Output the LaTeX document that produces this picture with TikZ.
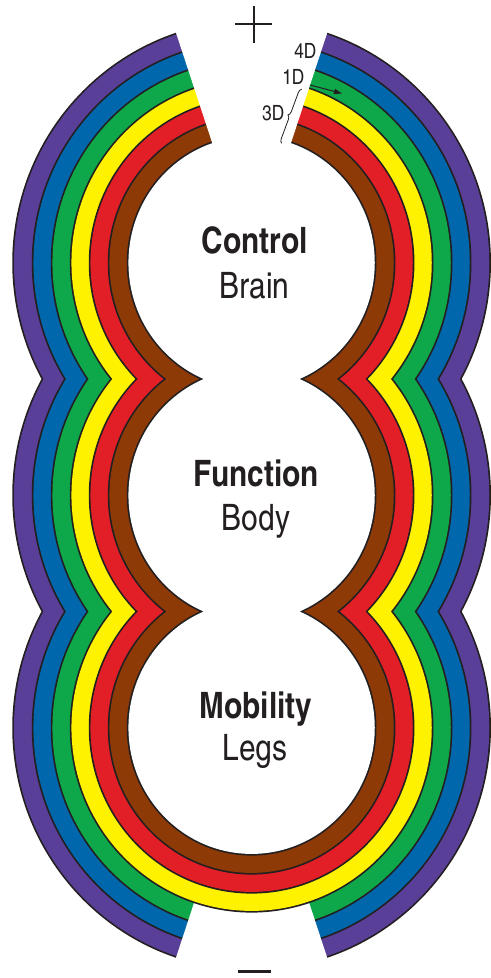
\documentclass[tikz,border=0pt]{standalone}
\usepackage{fontspec}
\setmainfont{texgyreheroscn}[Extension=.otf, UprightFont=*-regular, BoldFont=*-bold]
\usetikzlibrary{arrows.meta,decorations.pathreplacing}

\definecolor{bandpurple}{HTML}{5A3F98}
\definecolor{bandblue}{HTML}{0067AC}
\definecolor{bandgreen}{HTML}{0EA84B}
\definecolor{bandyellow}{HTML}{FFF200}
\definecolor{bandred}{HTML}{E21E26}
\definecolor{bandbrown}{HTML}{8E3A07}
\definecolor{ink}{HTML}{231F20}

% three stacked lobes of one boundary, filled with a colour
\newcommand\lobefill[2]{%
  \fill[#2] (top) ellipse [x radius=#1, y radius=#1+3]
            (mid) ellipse [x radius=#1, y radius=#1+3]
            (bot) ellipse [x radius=#1, y radius=#1+3];}
% one ring: thin dark outline at radius #1, colour #2 inside it
\newcommand\ring[2]{\lobefill{#1+0.85}{ink}\lobefill{#1-0.85}{#2}}

\tikzset{
  title/.style={font=\fontsize{18.2pt}{18pt}\selectfont\bfseries, text=ink, anchor=base, inner sep=0pt},
  subtitle/.style={font=\fontsize{18.2pt}{18pt}\selectfont, text=ink, anchor=base, inner sep=0pt},
  dimlabel/.style={font=\fontsize{10.5pt}{10pt}\selectfont, text=ink, anchor=base, inner sep=0pt},
  gap/.style={fill=white},
}

\begin{document}
\begin{tikzpicture}[x=0.5pt,y=-0.5pt]
\useasboundingbox[fill=white] (0,0) rectangle (491,978);
\coordinate (top) at (251.6,262.75);
\coordinate (mid) at (251.6,495.25);
\coordinate (bot) at (251.6,727.75);

% outer three rings, split at both ends
\ring{238.5}{bandpurple}
\ring{219}{bandblue}
\ring{200}{bandgreen}
\fill[gap] (bot) -- +(-103.1,313.5) -- +(103.1,313.5) -- cycle;

% inner three rings, open only at the top
\ring{181}{bandyellow}
\ring{162}{bandred}
\ring{143}{bandbrown}
\ring{124}{white}
\fill[gap] (top) -- +(-103.1,-313.5) -- +(103.1,-313.5) -- cycle;

% poles
\draw[ink, line width=1.1pt] (235,24) -- (272,24) (254,6) -- (254,43);
\fill[ink] (238,969.5) rectangle (270.7,972.5);

% dimension markers at the opening
\node[dimlabel] (d4) at (305.4,58.3) {4D};
\node[dimlabel] (d1) at (293.3,84.3) {1D};
\node[dimlabel] (d3) at (273.2,120.7) {3D};
\coordinate (a1) at (310,85);
\coordinate (a2) at (342,93.5);
\draw[ink, line width=0.5pt, -{Triangle[length=4pt,width=2.6pt]}] (a1) -- (a2);
\coordinate (b1) at (281.7,143.3);
\coordinate (b2) at (301.7,89.3);
\draw[ink, line width=0.4pt, decorate, decoration={brace, amplitude=2pt}] (b1) -- (b2);

% lobe captions
\node[title] (control) at (254.7,253.3) {Control};
\node[subtitle] (brain) at (254.5,298.3) {Brain};
\node[title] (function) at (256.5,486) {Function};
\node[subtitle] (body) at (256,530) {Body};
\node[title] (mobility) at (256,718.3) {Mobility};
\node[subtitle] (legs) at (255,760) {Legs};
\end{tikzpicture}
\end{document}
